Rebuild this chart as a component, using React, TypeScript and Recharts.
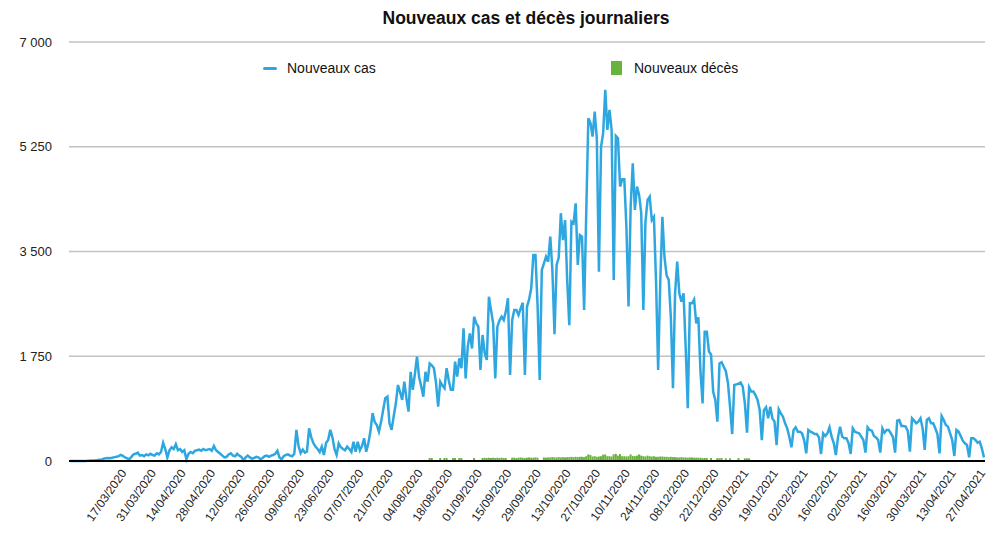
import React from "react";
import { ComposedChart, Line, Bar, XAxis, YAxis, CartesianGrid } from "recharts";

// one value per day, from 20/02/2020 (index 0) to 27/04/2021 (index 432)
const cases = [
  0, 0, 0, 0, 0, 1, 1, 2, 3, 5,
  8, 10, 12, 15, 20, 25, 40, 45, 50, 45,
  55, 65, 70, 80, 100, 85, 60, 45, 30, 70,
  110, 120, 140, 90, 100, 80, 110, 95, 120, 100,
  90, 130, 110, 150, 305, 200, 60, 180, 230, 200,
  280, 180, 200, 150, 180, 30, 120, 150, 130, 170,
  180, 190, 170, 200, 180, 190, 200, 170, 250, 180,
  150, 120, 90, 60, 70, 110, 130, 90, 80, 120,
  90, 70, 10, 60, 90, 60, 40, 50, 70, 60,
  30, 50, 80, 90, 70, 90, 100, 120, 170, 60,
  30, 80, 100, 110, 90, 80, 120, 520, 250, 130,
  190, 140, 160, 545, 400, 300, 240, 200, 150, 240,
  100, 300, 350, 520, 400, 200, 100, 295, 230, 200,
  180, 240, 200, 150, 320, 155, 320, 180, 250, 380,
  155, 295, 500, 800, 650, 600, 490, 650, 850, 1050,
  1075, 630, 520, 750, 960, 1270, 1150, 1020, 1325, 1050,
  825, 1490, 1190, 1450, 1745, 1400, 1250, 1075, 1490, 1325,
  1630, 1600, 1550, 1300, 910, 1325, 1260, 1215, 1550, 1350,
  1190, 1190, 1660, 1410, 1715, 1550, 2215, 1380, 1910, 2130,
  1880, 2410, 2300, 2245, 1520, 2105, 1800, 1690, 2745, 2520,
  2300, 1380, 2245, 2350, 2410, 2355, 2500, 2720, 1437, 2356,
  2523, 2523, 2440, 2550, 2645, 1437, 2580, 2700, 2885, 3440,
  3440, 2600, 1353, 3190, 3300, 3414, 3330, 3750, 3190, 2120,
  3275, 3400, 4140, 3690, 4025, 3025, 2270, 4000, 3970, 4305,
  3275, 3775, 3750, 2523, 4140, 5725, 5650, 5420, 5837, 5390,
  3164, 5250, 5475, 6200, 5530, 5865, 5530, 3025, 5430, 5390,
  4585, 4705, 4705, 3900, 2580, 4250, 4975, 4195, 4585, 4445,
  4140, 2523, 4000, 4360, 4415, 4025, 4080, 3000, 1520, 3000,
  4080, 3400, 3100, 3025, 2400, 1214, 2800, 3330, 2800, 2660,
  2800, 1900, 880, 2635, 2635, 2700, 2300, 2400, 1500, 960,
  2160, 2160, 1830, 1780, 1160, 1020, 657, 1630, 1650, 1575,
  1500, 1300, 900, 450, 1270, 1280, 1290, 1310, 1240, 960,
  475, 1230, 1160, 1160, 1100, 1020, 850, 350, 850, 897,
  713, 908, 713, 657, 267, 863, 797, 740, 630, 546,
  400, 228, 518, 563, 490, 490, 462, 350, 128, 518,
  490, 473, 450, 450, 395, 117, 462, 418, 462, 563,
  407, 300, 100, 395, 574, 407, 379, 379, 300, 117,
  546, 490, 473, 462, 407, 350, 140, 563, 518, 507,
  418, 395, 350, 140, 546, 473, 518, 518, 462, 400,
  140, 674, 685, 585, 585, 574, 500, 156, 713, 674,
  630, 657, 713, 550, 184, 685, 713, 630, 630, 546,
  450, 128, 752, 685, 602, 574, 462, 350, 84, 518,
  490, 418, 340, 295, 267, 61, 379, 379, 351, 306,
  323, 212, 61,
];

// deaths are only reported between index 170 and 322
const deathsStart = 170;
const deaths = [
  50, 50, 0, 0, 0, 50, 0, 50, 50, 0,
  0, 50, 50, 0, 50, 50, 0, 0, 0, 0,
  0, 50, 0, 0, 0, 50, 55, 50, 55, 50,
  55, 50, 55, 50, 55, 50, 50, 0, 0, 55,
  55, 50, 55, 60, 55, 50, 55, 60, 55, 55,
  60, 55, 0, 0, 60, 55, 60, 60, 65, 60,
  60, 65, 60, 65, 60, 65, 65, 70, 65, 70,
  65, 70, 70, 65, 80, 110, 100, 75, 80, 70,
  75, 80, 105, 110, 80, 80, 75, 110, 120, 90,
  115, 80, 80, 75, 80, 110, 85, 80, 90, 110,
  90, 80, 75, 90, 80, 75, 80, 70, 70, 75,
  75, 70, 70, 65, 70, 65, 65, 60, 60, 65,
  60, 60, 55, 60, 60, 55, 55, 55, 55, 50,
  50, 50, 0, 50, 0, 0, 50, 45, 50, 0,
  45, 0, 45, 0, 0, 0, 50, 0, 0, 45,
  45, 45, 0,
];

const tickDays = [
  26, 40, 54, 68, 82, 96, 110, 124, 138, 152, 166, 180, 194, 208, 222,
  236, 250, 264, 278, 292, 306, 320, 334, 348, 362, 376, 390, 404, 418, 432,
];
const tickLabels = [
  "17/03/2020", "31/03/2020", "14/04/2020", "28/04/2020", "12/05/2020",
  "26/05/2020", "09/06/2020", "23/06/2020", "07/07/2020", "21/07/2020",
  "04/08/2020", "18/08/2020", "01/09/2020", "15/09/2020", "29/09/2020",
  "13/10/2020", "27/10/2020", "10/11/2020", "24/11/2020", "08/12/2020",
  "22/12/2020", "05/01/2021", "19/01/2021", "02/02/2021", "16/02/2021",
  "02/03/2021", "16/03/2021", "30/03/2021", "13/04/2021", "27/04/2021",
];
const yTicks = [0, 1750, 3500, 5250, 7000];

const FONT = '"Liberation Sans", Arial, Helvetica, sans-serif';
const BLUE = "#2ea7e0";
const GREEN = "#68b33b";

const data = cases.map((v, i) => {
  const d = deaths[i - deathsStart];
  return { day: i, cas: v, deces: d ? d : null };
});

const fmt = (n: number) => String(n).replace(/\B(?=(\d{3})+(?!\d))/g, " ");

const DateTick = (props: any) => {
  const { x, y, payload } = props;
  const k = tickDays.indexOf(payload.value);
  if (k < 0) return <g />;
  const tx = x + 2;
  const ty = y + 4;
  return (
    <text
      x={tx}
      y={ty}
      textAnchor="end"
      transform={`rotate(-55 ${tx} ${ty})`}
      fontSize={12}
      fontFamily={FONT}
      fill="#222"
    >
      {tickLabels[k]}
    </text>
  );
};

export default function App() {
  return (
    <div style={{ position: "relative", width: 984, height: 526, fontFamily: FONT }}>
      <div
        style={{
          position: "absolute",
          left: 518,
          top: 0,
          transform: "translateX(-50%)",
          fontSize: 17.5,
          lineHeight: "20px",
          fontWeight: "bold",
          color: "#111",
          whiteSpace: "nowrap",
        }}
      >
        Nouveaux cas et décès journaliers
      </div>

      <ComposedChart
        width={984}
        height={526}
        data={data}
        margin={{ top: 34, right: 7, bottom: 0, left: 0 }}
      >
        <CartesianGrid vertical={false} stroke="#c2c2c2" strokeWidth={1.6} />
        <XAxis
          dataKey="day"
          interval={0}
          tickLine={false}
          axisLine={{ stroke: "#000", strokeWidth: 2 }}
          height={73}
          tick={DateTick}
        />
        <YAxis
          domain={[0, 7000]}
          ticks={yTicks}
          axisLine={false}
          tickLine={false}
          width={61}
          tickMargin={11}
          tickFormatter={fmt}
          tick={{ fontSize: 13, fill: "#222", fontFamily: FONT }}
        />
        <Bar dataKey="deces" fill={GREEN} barSize={2} isAnimationActive={false} />
        <Line
          type="linear"
          dataKey="cas"
          stroke={BLUE}
          strokeWidth={2.5}
          dot={false}
          isAnimationActive={false}
        />
      </ComposedChart>

      <div style={{ position: "absolute", left: 255, top: 59, width: 14, height: 3, background: BLUE, borderRadius: 1.5 }} />
      <div style={{ position: "absolute", left: 279, top: 52, fontSize: 14, lineHeight: "16px", color: "#111" }}>
        Nouveaux cas
      </div>
      <div style={{ position: "absolute", left: 603, top: 53, width: 11, height: 14, background: GREEN }} />
      <div style={{ position: "absolute", left: 626, top: 52, fontSize: 14, lineHeight: "16px", color: "#111" }}>
        Nouveaux décès
      </div>
    </div>
  );
}
